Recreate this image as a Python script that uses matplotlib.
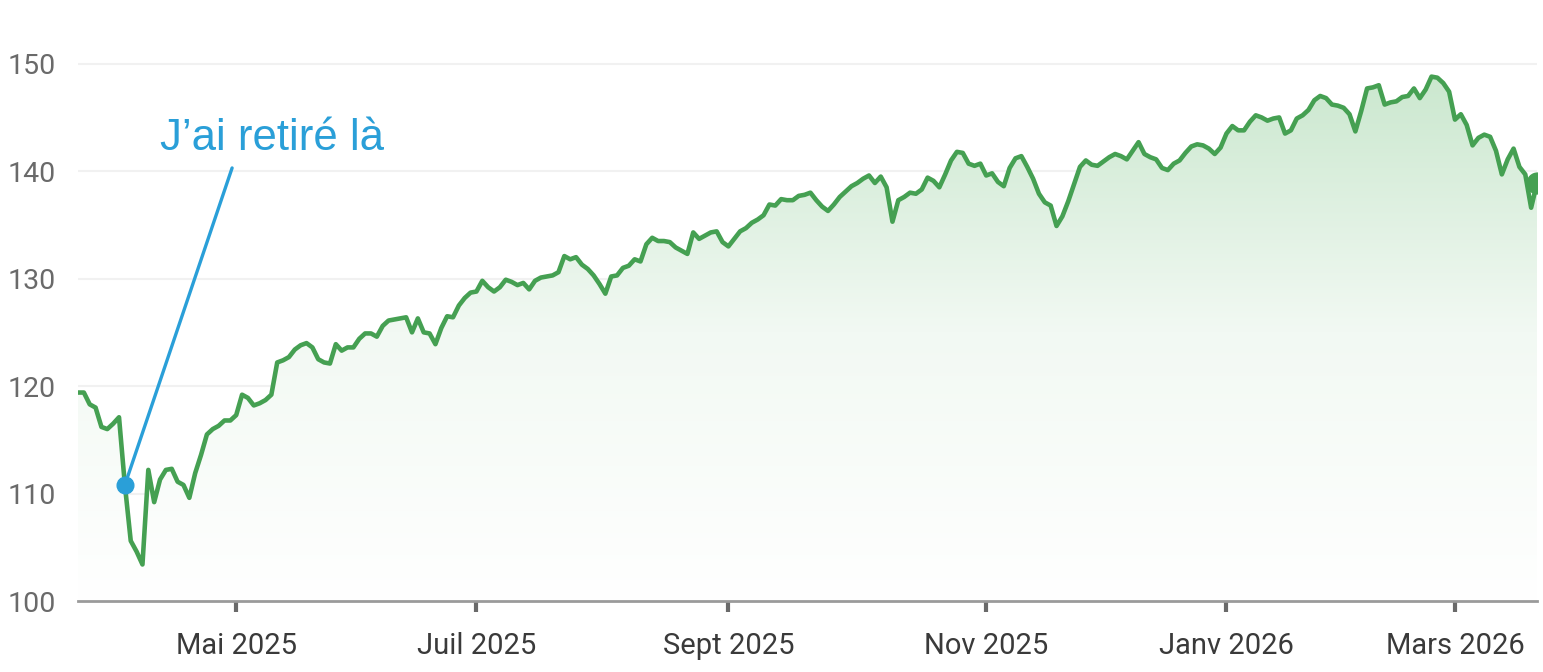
import matplotlib
matplotlib.use("Agg")
import matplotlib.pyplot as plt
from matplotlib.colors import LinearSegmentedColormap
import numpy as np
import pandas as pd

plt.rcParams['font.family'] = ['Roboto', 'DejaVu Sans']

# trading sessions (NYSE calendar)
start, end = '2025-03-24', '2026-03-20'
holidays = ['2025-04-18', '2025-05-26', '2025-06-19', '2025-07-04', '2025-09-01',
            '2025-11-27', '2025-12-25', '2026-01-01', '2026-01-19', '2026-02-16']

# closing values, one per session
close = [
    119.4, 119.4, 118.3, 118.0, 116.2, 116.0, 116.5, 117.1, 110.8, 105.6,
    104.6, 103.4, 112.2, 109.2, 111.3, 112.2, 112.3, 111.1, 110.8, 109.6,
    111.9, 113.6, 115.5, 116.0, 116.3, 116.8, 116.8, 117.3, 119.2, 118.9,
    118.2, 118.4, 118.7, 119.2, 122.2, 122.4, 122.7, 123.4, 123.8, 124.0,
    123.6, 122.5, 122.2, 122.1, 123.9, 123.3, 123.6, 123.6, 124.4, 124.9,
    124.9, 124.6, 125.6, 126.1, 126.2, 126.3, 126.4, 125.0, 126.3, 125.0,
    124.9, 123.9, 125.4, 126.5, 126.4, 127.5, 128.2, 128.7, 128.8, 129.8,
    129.2, 128.8, 129.2, 129.9, 129.7, 129.4, 129.6, 129.0, 129.8, 130.1,
    130.2, 130.3, 130.6, 132.1, 131.8, 132.0, 131.3, 130.9, 130.3, 129.5,
    128.6, 130.2, 130.3, 131.0, 131.2, 131.8, 131.6, 133.2, 133.8, 133.5,
    133.5, 133.4, 132.9, 132.6, 132.3, 134.3, 133.7, 134.0, 134.3, 134.4,
    133.4, 133.0, 133.7, 134.4, 134.7, 135.2, 135.5, 135.9, 136.9, 136.8,
    137.4, 137.3, 137.3, 137.7, 137.8, 138.0, 137.3, 136.7, 136.3, 136.9,
    137.6, 138.1, 138.6, 138.9, 139.3, 139.6, 138.9, 139.5, 138.5, 135.3,
    137.3, 137.6, 138.0, 137.9, 138.3, 139.4, 139.1, 138.5, 139.7, 141.0,
    141.8, 141.7, 140.7, 140.5, 140.7, 139.6, 139.8, 139.0, 138.6, 140.3,
    141.2, 141.4, 140.4, 139.3, 137.9, 137.1, 136.8, 134.9, 135.8, 137.2,
    138.8, 140.4, 141.0, 140.6, 140.5, 140.9, 141.3, 141.6, 141.4, 141.1,
    141.9, 142.7, 141.6, 141.3, 141.1, 140.3, 140.1, 140.7, 141.0, 141.7,
    142.3, 142.5, 142.4, 142.1, 141.6, 142.2, 143.5, 144.2, 143.8, 143.8,
    144.6, 145.2, 145.0, 144.7, 144.9, 145.0, 143.5, 143.8, 144.9, 145.2,
    145.7, 146.6, 147.0, 146.8, 146.2, 146.1, 145.9, 145.3, 143.7, 145.6,
    147.7, 147.8, 148.0, 146.2, 146.4, 146.5, 146.9, 147.0, 147.7, 146.8,
    147.6, 148.8, 148.7, 148.2, 147.4, 144.8, 145.3, 144.3, 142.4, 143.1,
    143.4, 143.2, 141.9, 139.7, 141.1, 142.1, 140.4, 139.7, 136.6, 138.9,
]

tick_months = ['2025-05', '2025-07', '2025-09', '2025-11', '2026-01', '2026-03']
tick_labels = ['Mai 2025', 'Juil 2025', 'Sept 2025', 'Nov 2025', 'Janv 2026', 'Mars 2026']
y_ticks = [100, 110, 120, 130, 140, 150]

note_date = '2025-04-03'
note_text = 'J\u2019ai retiré là'

dates = pd.bdate_range(start, end, freq='C', holidays=holidays)
close = np.array(close)
x = np.arange(len(dates))
months = dates.strftime('%Y-%m')
tick_pos = [int(np.argmax(months == m)) for m in tick_months]
note_i = int(np.where(dates == pd.Timestamp(note_date))[0][0])

green = '#45a052'
blue = '#2a9fd8'

fig = plt.figure(figsize=(15.43, 6.72), dpi=100)
ax = fig.add_axes([78 / 1543, 71 / 672, 1459 / 1543, 591 / 672])
ax.set_xlim(0, len(dates) - 1)
ax.set_ylim(100, 155)

# gradient fill under the curve
cmap = LinearSegmentedColormap.from_list('g', ['#ffffff', '#f2f9f3', '#c9e7cd'])
grad = np.linspace(0, 1, 256).reshape(-1, 1)
img = ax.imshow(grad, extent=[0, len(dates) - 1, 100, 150], origin='lower',
                aspect='auto', cmap=cmap, zorder=1)
poly = ax.fill_between(x, close, 100, color='none', lw=0)
path = poly.get_paths()[0]
img.set_clip_path(path, transform=ax.transData)

for v in y_ticks[1:]:
    ax.axhline(v, color='#f1f1f1', lw=1.5, zorder=0)

ax.plot(x, close, color=green, lw=3.3, solid_joinstyle='round', zorder=3)
ax.plot(x[-1], close[-1], 'o', color=green, ms=15, zorder=4)

# annotation
ax.plot(note_i, close[note_i], 'o', color=blue, ms=12, zorder=5)
ax.annotate('', xy=(note_i, close[note_i]), xytext=(26.3, 140.3),
            arrowprops=dict(arrowstyle='-', color=blue, lw=2.4,
                            shrinkA=0, shrinkB=0), zorder=5)
ax.text(14, 142.0, note_text, color=blue, fontsize=31.5, ha='left', va='baseline',
        family=['Liberation Sans', 'DejaVu Sans'])

for s in ['top', 'right', 'left']:
    ax.spines[s].set_visible(False)
ax.spines['bottom'].set_color('#9a9a9a')
ax.spines['bottom'].set_linewidth(2)

ax.set_xticks(tick_pos)
ax.set_xticklabels(tick_labels)
ax.set_yticks(y_ticks)
ax.tick_params(axis='x', direction='out', length=8, width=3, color='#6a6a6a',
               labelsize=21, labelcolor='#3a3a3a', pad=14)
ax.tick_params(axis='y', length=0, labelsize=20.5, labelcolor='#6a6a6a', pad=16)

fig.savefig('out.png', dpi=100)
